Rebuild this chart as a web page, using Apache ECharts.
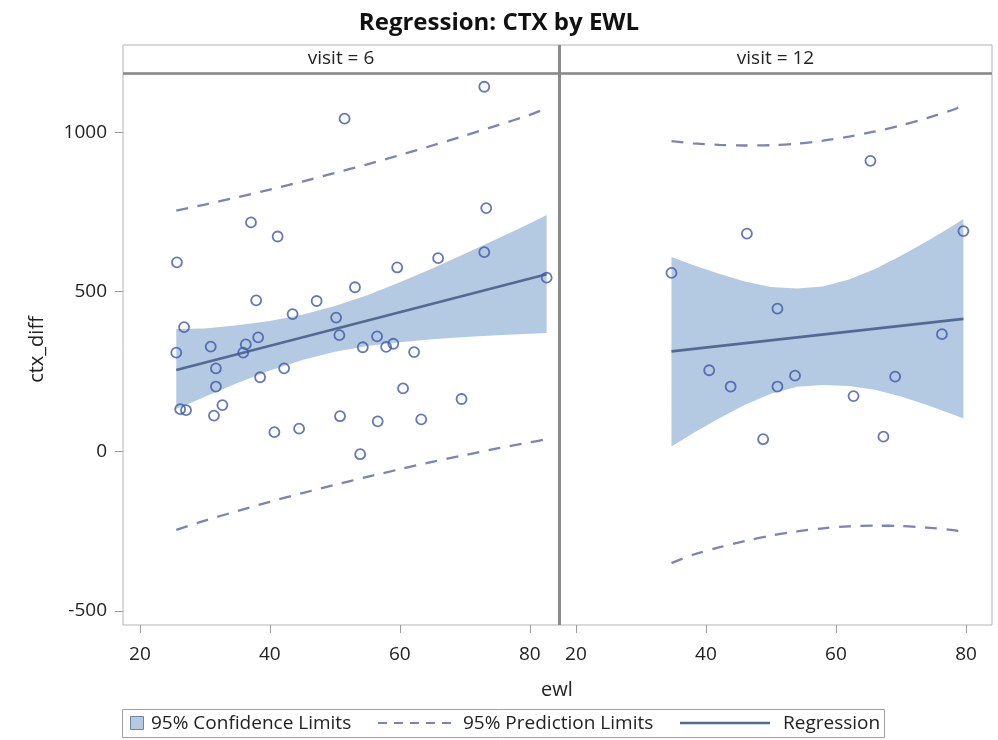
<!DOCTYPE html>
<html>
<head>
<meta charset="utf-8">
<title>Regression: CTX by EWL</title>
<script src="https://cdn.jsdelivr.net/npm/echarts@6.0.0/dist/echarts.min.js"></script>
<style>
  html, body { margin: 0; padding: 0; background: #fff; }
  #chart { width: 998px; height: 740px; }
</style>
</head>
<body>
<div id="chart"></div>
<script>
//--------------------------------
// Data
//--------------------------------
const panels = ['visit = 6', 'visit = 12'];
const xTicks = [20, 40, 60, 80];
const yTicks = [-500, 0, 500, 1000];

// visit = 6 : observations
const v6Ewl = [73.0, 51.5, 73.3, 37.1, 41.2, 25.7, 65.9, 59.6, 73.0, 82.6, 53.1, 37.9, 47.2, 43.5, 50.2,
  26.8, 25.6, 30.9, 36.3, 35.9, 38.2, 31.7, 31.7, 42.2, 38.5, 50.7, 54.3, 56.5, 57.9, 59.0, 62.2,
  26.2, 27.1, 32.7, 31.4, 60.5, 69.5, 50.8, 56.6, 63.3, 40.7, 44.5, 53.9];
const v6Ctx = [1142, 1042, 762, 717, 673, 592, 605, 576, 624, 544, 514, 473, 471, 430, 419,
  389, 309, 328, 335, 309, 357, 260, 203, 260, 232, 364, 326, 360, 327, 337, 311,
  132, 129, 145, 112, 197, 164, 110, 94, 100, 60, 71, -9];
// visit = 6 : fit, confidence and prediction limits
const v6Grid = [25.6, 30, 35, 40, 45, 50, 55, 60, 65, 70, 75, 80, 82.6];
const v6CiLo = [133, 171, 214, 253, 286, 312, 330, 342, 351, 358, 364, 368, 371];
const v6CiHi = [383, 385, 395, 408, 428, 455, 489, 530, 573, 619, 666, 714, 740];
const v6PiLo = [-246, -217, -187, -158, -131, -105, -80, -56, -33, -12, 9, 28, 38];
const v6PiHi = [754, 773, 796, 820, 845, 872, 899, 928, 958, 989, 1021, 1054, 1075];
const v6FitX = [25.6, 82.6];
const v6FitY = [255, 555];

// visit = 12 : observations
const v12Ewl = [65.3, 46.3, 79.6, 34.7, 51.0, 76.3, 40.5, 43.8, 51.0, 53.7, 69.1, 62.7, 48.8, 67.3];
const v12Ctx = [910, 682, 690, 559, 447, 367, 254, 203, 203, 237, 234, 173, 38, 46];
// visit = 12 : fit, confidence and prediction limits
const v12Grid = [34.7, 38, 42, 46, 50, 54, 58, 62, 66, 70, 74, 78, 79.6];
const v12CiLo = [15, 57, 103, 146, 180, 202, 208, 205, 193, 172, 145, 115, 103];
const v12CiHi = [609, 584, 556, 532, 515, 510, 516, 538, 571, 613, 658, 707, 728];
const v12PiLo = [-350, -324, -301, -281, -264, -251, -241, -235, -233, -234, -239, -247, -253];
const v12PiHi = [972, 965, 960, 958, 959, 964, 973, 986, 1002, 1021, 1044, 1070, 1085];
const v12FitX = [34.7, 79.6];
const v12FitY = [313, 415];

//--------------------------------
// Style
//--------------------------------
const FONT = '"Open Sans", sans-serif';
const TEXT = '#222';
const BAND = '#b4c9e2';
const FIT = '#536a92';
const PRED = '#7c84b4';
const MARK = '#3f58a6';
const FRAME = '#b3b3b3';
const DARK = '#8a8a8a';
const DASH = [12, 9.5];

const pair = (xs, ys) => xs.map((x, i) => [x, ys[i]]);

// confidence band: one polygon through the axis scales
function bandSeries(i, xs, lo, hi) {
    return {
        type: 'custom', xAxisIndex: i, yAxisIndex: i, silent: true, z: 1,
        data: xs.map((x, k) => [x, lo[k], hi[k]]),
        encode: { x: 0, y: [1, 2] },
        renderItem: (params, api) => {
            if (params.dataIndex !== 0) return null;
            const top = xs.map((x, k) => api.coord([x, hi[k]]));
            const bottom = xs.map((x, k) => api.coord([x, lo[k]])).reverse();
            return { type: 'polygon', shape: { points: top.concat(bottom) }, style: { fill: BAND } };
        }
    };
}

function panelSeries(i, grid, ciLo, ciHi, piLo, piHi, fitX, fitY, ptX, ptY) {
    const ax = { xAxisIndex: i, yAxisIndex: i, silent: true };
    return [
        bandSeries(i, grid, ciLo, ciHi),
        { ...ax, type: 'line', data: pair(grid, piHi), symbol: 'none', smooth: 0.3,
          lineStyle: { color: PRED, width: 2.3, type: DASH }, z: 2 },
        { ...ax, type: 'line', data: pair(grid, piLo), symbol: 'none', smooth: 0.3,
          lineStyle: { color: PRED, width: 2.3, type: DASH }, z: 2 },
        { ...ax, type: 'line', data: pair(fitX, fitY), symbol: 'none',
          lineStyle: { color: FIT, width: 2.6 }, z: 3 },
        { ...ax, type: 'scatter', data: pair(ptX, ptY), symbol: 'circle', symbolSize: 10,
          itemStyle: { color: 'rgba(0,0,0,0)', borderColor: MARK, borderWidth: 1.8 }, z: 4 }
    ];
}

const grids = [
    { left: 123, top: 74, width: 436, height: 551 },
    { left: 559, top: 74, width: 433, height: 551 }
];

const option = {
    backgroundColor: '#fff',
    animation: false,
    title: {
        text: 'Regression: CTX by EWL',
        left: 'center',
        top: 6,
        textStyle: { fontFamily: FONT, fontSize: 24, fontWeight: 'bold', color: '#111' }
    },
    grid: grids.map(g => ({ ...g, show: true, borderColor: FRAME, borderWidth: 1 })),
    xAxis: [0, 1].map(i => ({
        gridIndex: i,
        type: 'value',
        min: 17.4,
        max: i ? 84.0 : 84.5,
        axisLine: { show: false, onZero: false },
        splitLine: { show: false },
        axisTick: { show: true, length: 8, customValues: xTicks, lineStyle: { color: '#9a9a9a' } },
        axisLabel: { customValues: xTicks, fontFamily: FONT, fontSize: 19, color: TEXT, margin: 20 }
    })),
    yAxis: [0, 1].map(i => ({
        gridIndex: i,
        type: 'value',
        min: -544,
        max: 1182,
        name: i ? '' : 'ctx_diff',
        nameLocation: 'middle',
        nameRotate: 90,
        nameGap: 76,
        nameTextStyle: { fontFamily: FONT, fontSize: 20, color: TEXT },
        axisLine: { show: false, onZero: false },
        splitLine: { show: false },
        axisTick: { show: i === 0, length: 8, customValues: yTicks, lineStyle: { color: '#9a9a9a' } },
        axisLabel: { show: i === 0, customValues: yTicks, formatter: v => String(v),
                     fontFamily: FONT, fontSize: 19, color: TEXT, margin: 16 }
    })),
    series: [
        ...panelSeries(0, v6Grid, v6CiLo, v6CiHi, v6PiLo, v6PiHi, v6FitX, v6FitY, v6Ewl, v6Ctx),
        ...panelSeries(1, v12Grid, v12CiLo, v12CiHi, v12PiLo, v12PiHi, v12FitX, v12FitY, v12Ewl, v12Ctx)
    ],
    graphic: [
        // panel headers
        ...grids.map((g, i) => ({
            type: 'group',
            children: [
                { type: 'rect', shape: { x: g.left, y: 45, width: g.width, height: 28 },
                  style: { fill: '#fff', stroke: FRAME, lineWidth: 1 } },
                { type: 'text', x: g.left + g.width / 2, y: 59,
                  style: { text: panels[i], fontFamily: FONT, fontSize: 19, fill: TEXT,
                           align: 'center', verticalAlign: 'middle' } }
            ]
        })),
        { type: 'line', z: 100, shape: { x1: 123, y1: 73.5, x2: 992, y2: 73.5 },
          style: { stroke: DARK, lineWidth: 2.5 } },
        { type: 'line', z: 100, shape: { x1: 559.5, y1: 45, x2: 559.5, y2: 625 },
          style: { stroke: DARK, lineWidth: 3 } },
        // x axis name, shared by both panels
        { type: 'text', x: 557, y: 690,
          style: { text: 'ewl', fontFamily: FONT, fontSize: 20, fill: TEXT,
                   align: 'center', verticalAlign: 'middle' } },
        // legend
        { type: 'rect', shape: { x: 122.5, y: 709.5, width: 762, height: 28 },
          style: { fill: '#fff', stroke: '#a0a0a0', lineWidth: 1 } },
        { type: 'rect', shape: { x: 130.5, y: 716.5, width: 13, height: 13 },
          style: { fill: BAND, stroke: '#6f82a8', lineWidth: 1 } },
        { type: 'text', x: 151, y: 724,
          style: { text: '95% Confidence Limits', fontFamily: FONT, fontSize: 19, fill: TEXT, verticalAlign: 'middle' } },
        { type: 'line', shape: { x1: 378, y1: 723, x2: 455, y2: 723 },
          style: { stroke: PRED, lineWidth: 2, lineDash: [9, 7] } },
        { type: 'text', x: 463, y: 724,
          style: { text: '95% Prediction Limits', fontFamily: FONT, fontSize: 19, fill: TEXT, verticalAlign: 'middle' } },
        { type: 'line', shape: { x1: 680, y1: 723, x2: 770, y2: 723 },
          style: { stroke: FIT, lineWidth: 2.6 } },
        { type: 'text', x: 783, y: 724,
          style: { text: 'Regression', fontFamily: FONT, fontSize: 19, fill: TEXT, verticalAlign: 'middle' } }
    ]
};

const myChart = echarts.init(document.getElementById('chart'));
myChart.setOption(option);
</script>
</body>
</html>
